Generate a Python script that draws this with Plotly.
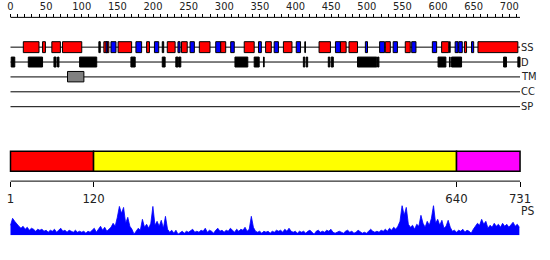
import plotly.graph_objects as go

# ---------------- data ----------------
ruler_major = list(range(0, 701, 50))
ruler_minor = list(range(0, 716, 10))
track_len = 715

track_names = ["SS", "D", "TM", "CC", "SP"]

# secondary structure: (start, end, type) H=helix, E=strand, C=coil marker
ss_start = [18, 45, 58, 73, 124, 131, 134, 141, 151, 176, 191, 202, 213, 220, 235, 240, 252, 265,
            288, 295, 309, 328, 348, 358, 370, 383, 401, 413, 433, 456, 463, 475, 498, 518, 526,
            537, 554, 563, 592, 605, 616, 624, 629, 637, 647, 656]
ss_end = [40, 49, 70, 100, 126, 138, 136, 148, 170, 184, 195, 208, 215, 231, 238, 248, 258, 280,
          295, 302, 314, 342, 352, 366, 376, 395, 407, 414, 449, 463, 471, 487, 501, 525, 533,
          543, 561, 569, 598, 615, 617, 628, 634, 640, 650, 712]
ss_type = ["H", "H", "H", "H", "C", "H", "E", "E", "H", "E", "H", "E", "C", "H", "E", "H", "E", "H",
           "E", "H", "E", "H", "E", "H", "E", "H", "E", "C", "H", "E", "H", "H", "E", "E", "H",
           "E", "H", "E", "E", "H", "C", "E", "E", "H", "E", "H"]

# disorder segments
d_start = [1, 25, 61, 66, 97, 169, 213, 232, 236, 315, 342, 355, 411, 415, 446, 450, 487, 515,
           600, 616, 619, 692, 712]
d_end = [6, 45, 64, 68, 121, 175, 217, 235, 239, 333, 349, 356, 413, 417, 448, 453, 514, 517,
         611, 617, 633, 696, 715]

# transmembrane
tm_start = [80]
tm_end = [103]

# domain architecture
dom_bounds = [1, 120, 640, 731]
dom_colors = ["#ff0000", "#ffff00", "#ff00ff"]

# PS profile (every 3 residues)
ps_pos = list(range(1, 732, 3))
ps_val = [10, 17, 14, 11, 9, 7, 9, 6, 8, 5, 7, 6, 4, 6, 5, 6, 4, 5, 3, 5,
          4, 6, 3, 5, 7, 4, 5, 3, 5, 4, 3, 5, 3, 4, 3, 4, 2, 4, 3, 5,
          7, 3, 6, 9, 5, 8, 4, 6, 8, 12, 9, 18, 29, 22, 28, 12, 18, 9, 6, 1,
          4, 7, 5, 16, 8, 11, 7, 12, 29, 10, 14, 9, 15, 7, 19, 6, 3, 5, 2, 5,
          1, 3, 4, 2, 4, 3, 5, 6, 3, 4, 3, 5, 4, 7, 3, 5, 4, 2, 5, 7,
          4, 5, 3, 5, 4, 7, 5, 3, 6, 4, 6, 5, 8, 4, 6, 19, 8, 4, 3, 4,
          2, 4, 3, 4, 2, 4, 3, 5, 4, 5, 3, 6, 4, 7, 4, 3, 4, 2, 4, 3,
          4, 2, 4, 5, 3, 1, 4, 5, 3, 4, 3, 5, 4, 6, 3, 2, 3, 4, 3, 2,
          4, 5, 3, 4, 2, 3, 5, 3, 2, 3, 2, 4, 6, 4, 3, 4, 3, 5, 4, 6,
          4, 7, 5, 8, 6, 9, 14, 30, 20, 28, 11, 8, 10, 6, 11, 9, 20, 12, 8, 14,
          10, 17, 30, 12, 16, 10, 15, 7, 9, 15, 8, 4, 5, 3, 5, 4, 6, 3, 5, 4,
          2, 6, 9, 12, 10, 16, 11, 14, 7, 10, 8, 12, 9, 11, 8, 12, 9, 11, 8, 10,
          13, 9, 11, 8]

# ---------------- figure ----------------
W, H = 550, 260
FONT = "DejaVu Sans Condensed, Liberation Sans Narrow, DejaVu Sans"
row_y = {"SS": 45.5, "D": 60.5, "TM": 75.5, "CC": 90.5, "SP": 105.5}
ss_colors = {"H": "#ff0000", "E": "#0000ff", "C": "#000000"}

fig = go.Figure()
fig.add_trace(go.Scatter(x=[0], y=[0], xaxis="x", yaxis="y", mode="markers",
                         marker=dict(opacity=0), hoverinfo="skip", showlegend=False))
fig.add_trace(go.Scatter(x=ps_pos, y=ps_val, xaxis="x2", yaxis="y2", mode="lines",
                         fill="tozeroy", fillcolor="#0000ff",
                         line=dict(color="#0000ff", width=0.8), showlegend=False))

shapes = []
# ruler baseline
shapes.append(dict(type="line", xref="x", yref="y", x0=0, x1=track_len, y0=15.5, y1=15.5,
                   line=dict(color="black", width=1)))
# track lines
for name in track_names:
    shapes.append(dict(type="line", xref="x", yref="y", x0=0, x1=track_len,
                       y0=row_y[name], y1=row_y[name], line=dict(color="black", width=1)))
# SS boxes
for s, e, t in zip(ss_start, ss_end, ss_type):
    y = row_y["SS"]
    shapes.append(dict(type="rect", xref="x", yref="y", x0=s, x1=e, y0=y - 5.5, y1=y + 5.5,
                       fillcolor=ss_colors[t], line=dict(color="black", width=1)))
# disorder
for s, e in zip(d_start, d_end):
    y = row_y["D"]
    shapes.append(dict(type="rect", xref="x", yref="y", x0=s, x1=e, y0=y - 5, y1=y + 5,
                       fillcolor="black", line=dict(color="black", width=1)))
# TM
for s, e in zip(tm_start, tm_end):
    y = row_y["TM"]
    shapes.append(dict(type="rect", xref="x", yref="y", x0=s, x1=e, y0=y - 5.5, y1=y + 5,
                       fillcolor="#808080", line=dict(color="black", width=1)))
# domains
for i, c in enumerate(dom_colors):
    shapes.append(dict(type="rect", xref="x2", yref="y", x0=dom_bounds[i], x1=dom_bounds[i + 1],
                       y0=150.5, y1=170.5, fillcolor=c, line=dict(color="black", width=1.5)))
# bottom axis line
shapes.append(dict(type="line", xref="x2", yref="y", x0=dom_bounds[0], x1=dom_bounds[-1],
                   y0=180.5, y1=180.5, line=dict(color="black", width=1)))

annotations = []
for name in track_names:
    annotations.append(dict(x=519 / W, xref="paper", y=row_y[name], yref="y", text=name,
                            showarrow=False, xanchor="left", yanchor="middle",
                            font=dict(family=FONT, size=11, color="#222222")))
annotations.append(dict(x=dom_bounds[-1], xref="x2", y=211, yref="y", text="PS",
                        showarrow=False, xanchor="left", yanchor="middle", xshift=-1,
                        font=dict(family=FONT, size=12, color="#222222")))

fig.update_layout(
    width=W, height=H, margin=dict(l=0, r=0, t=0, b=0),
    paper_bgcolor="white", plot_bgcolor="white",
    showlegend=False,
    shapes=shapes, annotations=annotations,
    xaxis=dict(range=[-14.73, 757.1], domain=[0, 1], anchor="free", position=1 - 15.5 / H,
               side="top", showline=False, showgrid=False, zeroline=False,
               ticks="outside", ticklen=3, tickcolor="black", tickwidth=1,
               tickvals=ruler_major, ticktext=[str(v) for v in ruler_major],
               tickfont=dict(family=FONT, size=11, color="#222222"),
               minor=dict(tickvals=ruler_minor, ticks="outside", ticklen=3,
                          tickcolor="black", tickwidth=1)),
    xaxis2=dict(range=[-14.04, 773.9], domain=[0, 1], overlaying="x", anchor="free",
                position=1 - 180.5 / H, side="bottom", showline=False, showgrid=False,
                zeroline=False, ticks="outside", ticklen=5, tickcolor="black",
                tickvals=dom_bounds, ticktext=[str(v) for v in dom_bounds],
                tickfont=dict(family=FONT, size=13, color="#222222")),
    yaxis=dict(range=[H, 0], domain=[0, 1], visible=False, fixedrange=True),
    yaxis2=dict(range=[0, 30], domain=[25 / H, 55 / H], anchor="x2", visible=False),
)

fig.write_html("out.html")
